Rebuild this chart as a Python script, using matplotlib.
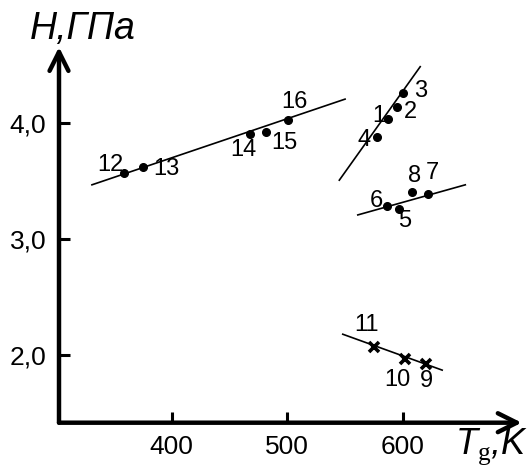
import numpy as np
import matplotlib.pyplot as plt

plt.rcParams['font.family'] = ['Liberation Sans', 'DejaVu Sans']
plt.rcParams['mathtext.fontset'] = 'custom'
plt.rcParams['mathtext.it'] = 'Liberation Sans:italic'
plt.rcParams['mathtext.rm'] = 'Liberation Serif'

# group 1-4
tg_a = [587, 595, 600, 578]
h_a = [4.04, 4.14, 4.26, 3.88]
lab_a = ['1', '2', '3', '4']
# group 5-8
tg_b = [597, 586, 622, 608]
h_b = [3.26, 3.29, 3.39, 3.41]
lab_b = ['5', '6', '7', '8']
# group 9-11 (crosses)
tg_c = [620, 602, 575]
h_c = [1.92, 1.97, 2.07]
lab_c = ['9', '10', '11']
# group 12-16
tg_d = [359, 375, 468, 482, 501]
h_d = [3.57, 3.62, 3.905, 3.93, 4.03]
lab_d = ['12', '13', '14', '15', '16']

# trend lines (ends)
line_a_x, line_a_h = [545, 615], [3.51, 4.49]
line_b_x, line_b_h = [561, 654], [3.21, 3.47]
line_c_x, line_c_h = [548, 634], [2.18, 1.87]
line_d_x, line_d_h = [331, 550], [3.47, 4.21]

xticks = [400, 500, 600]
yticks = [2.0, 3.0, 4.0]
yticklabels = ['2,0', '3,0', '4,0']

# label offsets in pixels (dx, dy up)
offs = {
    '1': (-9, 3), '2': (13, -5), '3': (18, 2), '4': (-13, -3),
    '5': (5, -12), '6': (-10, 5), '7': (4, 21), '8': (2, 16),
    '9': (0, -17), '10': (-8, -21), '11': (-7, 22),
    '12': (-14, 8), '13': (24, -2), '14': (-7, -16), '15': (18, -11), '16': (6, 18),
}

W, H = 531, 467
fig = plt.figure(figsize=(W / 100, H / 100), dpi=100)
x0, y0, x1, y1 = 59, 422.7, 521.7, 47
ax = fig.add_axes([x0 / W, (H - y0) / H, (x1 - x0) / W, (y0 - y1) / H])
ax.set_xlim(302.5, 702.8)
ax.set_ylim(1.416, 4.66)

for lx, lh in [(line_a_x, line_a_h), (line_b_x, line_b_h),
               (line_c_x, line_c_h), (line_d_x, line_d_h)]:
    ax.plot(lx, lh, color='black', lw=1.2)

for tg, h in [(tg_a, h_a), (tg_b, h_b), (tg_d, h_d)]:
    ax.plot(tg, h, 'o', color='black', ms=5.5, ls='none')
ax.plot(tg_c, h_c, 'x', color='black', ms=7, mew=2.6, ls='none')

for tg, h, labs in [(tg_a, h_a, lab_a), (tg_b, h_b, lab_b),
                    (tg_c, h_c, lab_c), (tg_d, h_d, lab_d)]:
    for xi, yi, s in zip(tg, h, labs):
        dx, dy = offs[s]
        ax.annotate(s, (xi, yi), textcoords='offset pixels', xytext=(dx, dy),
                    ha='center', va='center', fontsize=17)

for sp in ax.spines.values():
    sp.set_visible(False)

ax.annotate('', xy=(1, 0), xytext=(0, 0), xycoords='axes fraction',
            arrowprops=dict(arrowstyle='->', lw=3.2, mutation_scale=34, color='black',
                            shrinkA=0, shrinkB=0))
ax.annotate('', xy=(0, 1), xytext=(0, 0), xycoords='axes fraction',
            arrowprops=dict(arrowstyle='->', lw=3.2, mutation_scale=34, color='black',
                            shrinkA=0, shrinkB=0))

ax.set_xticks(xticks)
ax.set_xticklabels([str(v) for v in xticks])
ax.set_yticks(yticks)
ax.set_yticklabels(yticklabels)
ax.tick_params(direction='in', length=8, width=2.2, labelsize=19, pad=9)

fig.text(30 / W, 1 - 39 / H, 'H,ГПа', style='italic', fontsize=27,
         ha='left', va='baseline')
fig.text(455 / W, 1 - 454 / H, r'$T_{\mathrm{g}}$,K', style='italic', fontsize=26,
         ha='left', va='baseline')

fig.savefig('out.png', dpi=100)
